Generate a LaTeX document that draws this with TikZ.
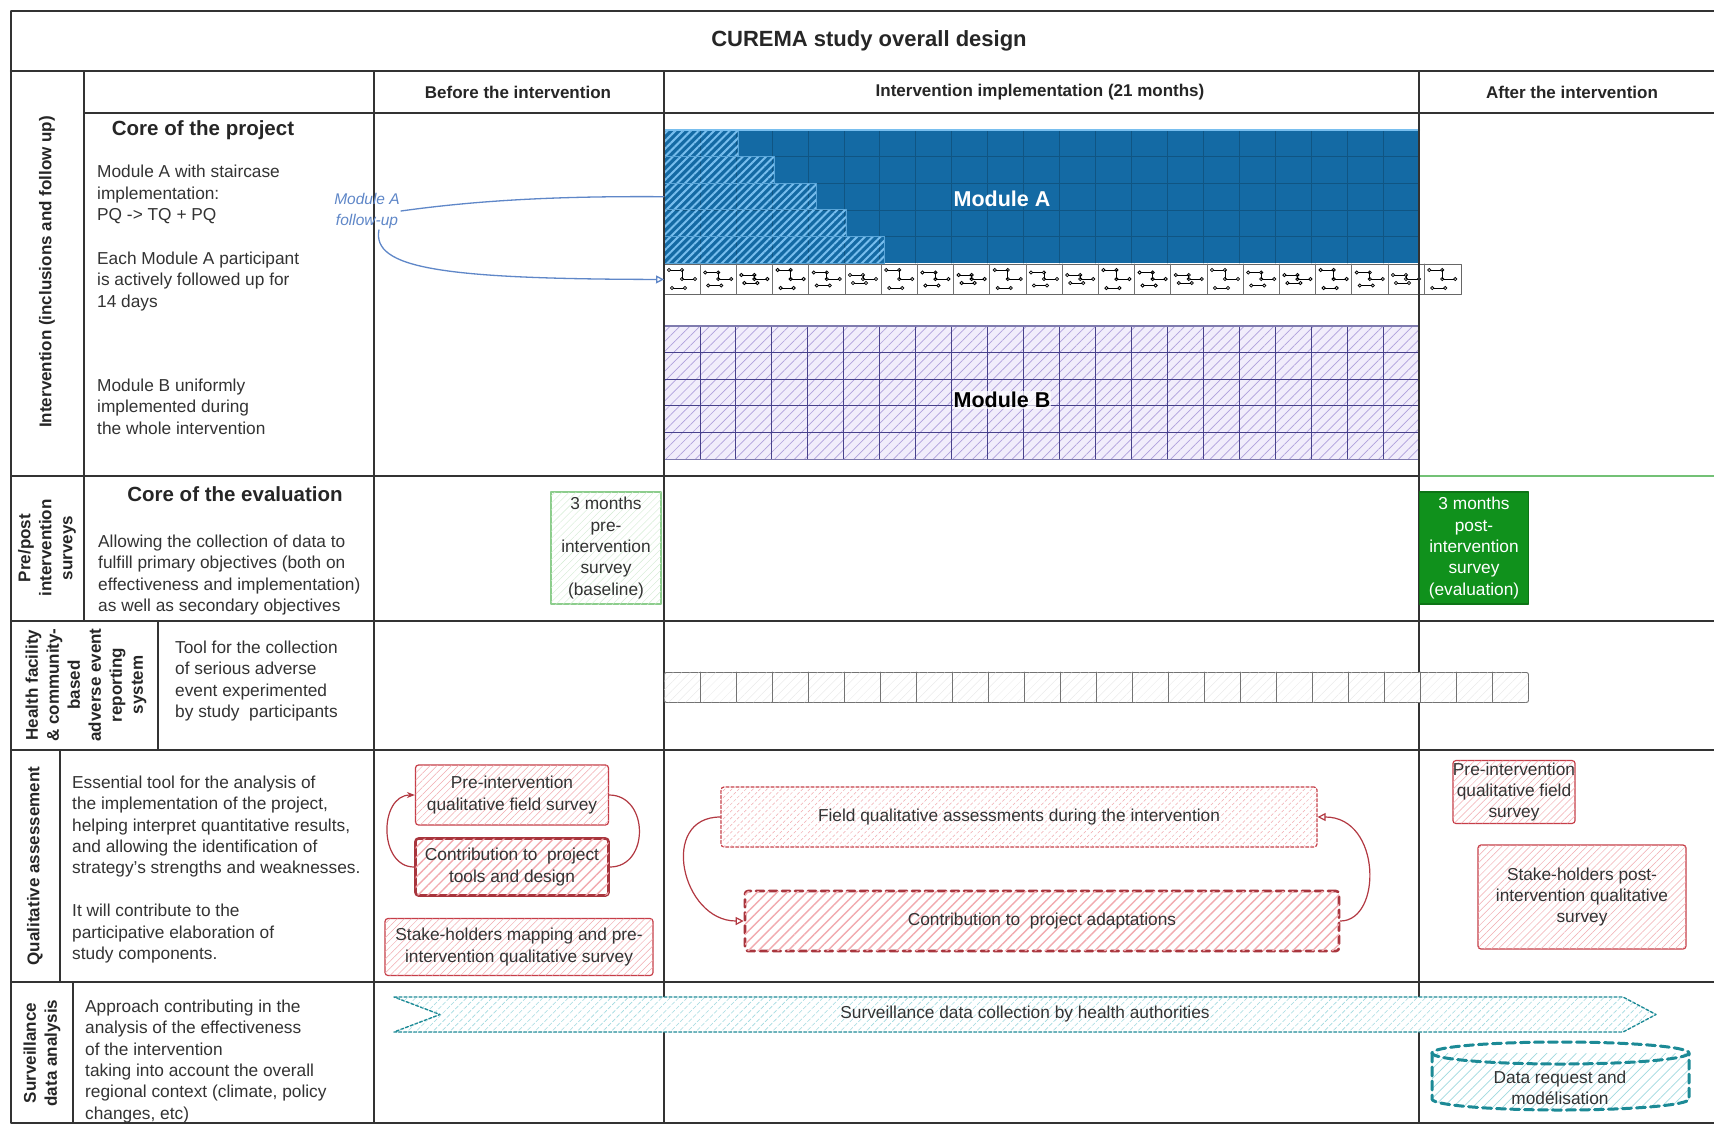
\documentclass[tikz,border=0pt]{standalone}
\usepackage{fontspec}
\setmainfont{Liberation Sans}
\usetikzlibrary{arrows.meta,patterns.meta,positioning}

\definecolor{modAblue}{RGB}{20,106,164}
\definecolor{modAhatch}{RGB}{120,190,238}
\definecolor{modBfill}{RGB}{241,237,251}
\definecolor{modBhatch}{RGB}{175,160,220}
\definecolor{modBgrid}{RGB}{72,66,140}
\definecolor{qred}{RGB}{198,62,72}
\definecolor{qpink}{RGB}{242,170,175}
\definecolor{evalgreen}{RGB}{16,145,28}
\definecolor{palegreen}{RGB}{140,205,140}
\definecolor{survteal}{RGB}{28,138,150}
\definecolor{tealhatch}{RGB}{160,218,224}
\definecolor{fublue}{RGB}{95,135,200}

\newcommand{\bodysize}{\fontsize{17.3}{21.4}\selectfont}
\newcommand{\labsize}{\bfseries\fontsize{17}{21}\selectfont}

\tikzstyle{tbl} = [line width=1.3pt, draw=black!80]
\tikzstyle{bodytxt} = [font=\bodysize, text=black!80, align=left, anchor=north west, inner sep=0pt]
\tikzstyle{headtxt} = [font=\labsize, text=black!85]
\tikzstyle{sidetxt} = [font=\labsize, text=black!85, rotate=90, align=center, inner sep=0pt]
\tikzstyle{cell} = [line width=0.9pt, draw=black!55]
\tikzstyle{fusym} = [line width=0.8pt, arrows={Circle[open,length=4pt]-Circle[open,length=4pt]}]
\tikzstyle{qbox} = [rounded corners=3pt, fill=white, align=center, font=\bodysize, text=black!80, inner sep=2pt]
\tikzstyle{qthin} = [qbox, draw=qred, line width=1.2pt, postaction={pattern={Lines[angle=45,distance=5pt,line width=0.5pt]}, pattern color=qpink}]
\tikzstyle{qbold} = [qbox, draw=qred!85!black, line width=2.6pt, postaction={pattern={Lines[angle=45,distance=7pt,line width=1.4pt]}, pattern color=qpink}]
\tikzstyle{qdash} = [qthin, dash pattern=on 3pt off 2pt]
\tikzstyle{qdashbold} = [qbold, dash pattern=on 8pt off 5pt]
\tikzstyle{qloop} = [draw=qred!90!black, line width=1.2pt]
\tikzstyle{fuarrow} = [draw=fublue, line width=1.3pt]

\begin{document}
\begin{tikzpicture}[x=1pt, y=-1pt, line cap=round, line join=round, >=Triangle]
  \useasboundingbox (0,0) rectangle (1714,1125);
  \fill[white] (0,0) rectangle (1714,1125);

  % module A with staircase
  \node[fill=modAblue, minimum width=755, minimum height=133, anchor=north west, inner sep=0pt] (modAbox) at (664,130) {};
  \foreach \i in {1,...,20}
    \draw[modAblue!80!black, line width=0.5pt] (664+35.95*\i,130) -- ++(0,133);
  \foreach \j in {1,...,4}
    \draw[modAblue!80!black, line width=0.5pt] (664,130+26.6*\j) -- ++(755,0);
  \foreach \w [count=\r from 0] in {74,110,152,182,220}
    \filldraw[draw=modAhatch!70!modAblue, line width=0.8pt, pattern={Lines[angle=45,distance=5.5pt,line width=2pt]}, pattern color=modAhatch] (664,130+26.6*\r) rectangle ++(\w,26.6);
  \draw[modAhatch, line width=1.2pt] (modAbox.north west) -- (modAbox.north east);
  \node[text=white, font=\bfseries\fontsize{21.5}{24}\selectfont] (modAlbl) at (1002,199) {Module A};

  % follow-up strip
  \node[draw=black!60, line width=0.9pt, fill=white, minimum width=797, minimum height=30, anchor=north west, inner sep=0pt] (fuStrip) at (664,264) {};
  \foreach \i in {0,...,21}{
    \pgfmathsetmacro{\xa}{664+36.2*\i}
    \pgfmathsetmacro{\dy}{mod(\i,3)*2.5}
    \ifnum\i>0 \draw[cell] (\xa,264) -- (\xa,294); \fi
    \draw[fusym] (\xa+3,270+\dy) -- ++(17,0);
    \draw[fusym] (\xa+16,279) -- ++(17,0);
    \draw[fusym] (\xa+6,288-\dy) -- ++(17,0);
    \draw[line width=0.8pt] (\xa+18,270+\dy) -- (\xa+18,279);
  }

  % module B
  \node[fill=modBfill, minimum width=755, minimum height=133, anchor=north west, inner sep=0pt,
        postaction={pattern={Lines[angle=45,distance=7pt,line width=0.7pt]}, pattern color=modBhatch}] (modBbox) at (664,326) {};
  \foreach \i in {1,...,20}
    \draw[modBgrid, line width=0.9pt] (664+35.95*\i,326) -- ++(0,133);
  \foreach \j in {1,...,4}
    \draw[modBgrid, line width=0.9pt] (664,326+26.6*\j) -- ++(755,0);
  \draw[modBgrid!70, line width=1.1pt] (modBbox.north west) rectangle (modBbox.south east);
  \node[fill=white, fill opacity=0.7, text opacity=1, inner sep=1pt, font=\bfseries\fontsize{21.5}{24}\selectfont] (modBlbl) at (1002,400) {Module B};

  % table
  \draw[tbl] (11,11) -- (1714,11);
  \draw[tbl] (11,11) -- (11,1123) -- (1714,1123);
  \draw[tbl, line width=2.4pt] (11,71) -- (1714,71);
  \draw[tbl] (84,113) -- (1714,113);
  \foreach \y in {476,621,750,982}
    \draw[tbl] (11,\y) -- (1714,\y);
  \draw[line width=1.3pt, palegreen!80!evalgreen] (1419,476) -- (1714,476);
  \foreach \x in {374,664,1419}
    \draw[tbl] (\x,71) -- (\x,1123);
  \draw[tbl] (84,71) -- (84,621);
  \draw[tbl] (158,621) -- (158,750);
  \draw[tbl] (60,750) -- (60,982);
  \draw[tbl] (73,982) -- (73,1123);

  % titles
  \node[font=\bfseries\fontsize{22}{26}\selectfont, text=black!85] (title) at (869,41) {CUREMA study overall design};
  \node[headtxt] (hBefore) at (518,92) {Before the intervention};
  \node[headtxt] (hDuring) at (1040,92) {Intervention implementation (21 months)};
  \node[headtxt] (hAfter) at (1572,92) {After the intervention};

  \node[sidetxt] (lblInterv) at (47,272) {Intervention (inclusions and follow up)};
  \node[sidetxt] (lblSurveys) at (47,548) {Pre/post\\intervention\\surveys};
  \node[sidetxt] (lblSae) at (86,685) {Health facility\\\& community-\\based\\adverse event\\reporting\\system};
  \node[sidetxt] (lblQual) at (35,866) {Qualitative assessement};
  \node[sidetxt] (lblSurv) at (42,1053) {Surveillance\\data analysis};

  % left column texts
  \node[font=\bfseries\fontsize{20.5}{24}\selectfont, text=black!85] (coreProj) at (203,130) {Core of the project};
  \node[bodytxt] (txtModA) at (97,165) {Module A with staircase\\implementation:\\PQ -> TQ + PQ};
  \node[bodytxt] (txtFollow) at (97,251.5) {Each Module A participant\\is actively followed up for\\14 days};
  \node[bodytxt] (txtModB) at (97,378.5) {Module B uniformly\\implemented during\\the whole intervention};
  \node[font=\bfseries\fontsize{20.5}{24}\selectfont, text=black!85] (coreEval) at (235,494) {Core of the evaluation};
  \node[bodytxt] (txtEval) at (98,534.5) {Allowing the collection of data to\\fulfill primary objectives (both on\\effectiveness and implementation)\\as well as secondary objectives};
  \node[bodytxt] (txtSae) at (175,640.5) {Tool for the collection\\of serious adverse\\event experimented\\by study\ \ participants};
  \node[bodytxt] (txtQual) at (72,775.5) {Essential tool for the analysis of\\the implementation of the project,\\helping interpret quantitative results,\\and allowing the identification of\\strategy's strengths and weaknesses.\\[21.4pt]It will contribute to the\\participative elaboration of\\study components.};
  \node[bodytxt] (txtSurv) at (85,999.5) {Approach contributing in the\\analysis of the effectiveness\\of the intervention\\taking into account the overall\\regional context (climate, policy\\changes, etc)};

  % follow-up link
  \node[text=fublue, font=\itshape\fontsize{15.5}{21}\selectfont, align=center, inner sep=1pt] (fuLabel) at (367,211) {Module A\\follow-up};
  \draw[fuarrow] (fuLabel.east) .. controls (480,200) and (560,196) .. (modAbox.west);
  \draw[fuarrow, -{Triangle[open,length=8pt,width=8pt]}] ([xshift=-22pt]fuLabel.south east) .. controls (372,268) and (440,279) .. (fuStrip.west);

  % pre/post surveys
  \node[draw=palegreen, line width=1.2pt, fill=white, minimum width=110, minimum height=112, align=center, inner sep=1pt,
        font=\bodysize, text=black!80, postaction={pattern={Lines[angle=45,distance=5pt,line width=0.4pt]}, pattern color=palegreen!40}] (preSurv) at (606,548) {3 months\\pre-\\intervention\\survey\\(baseline)};
  \node[draw=evalgreen!80!black, line width=1.2pt, fill=evalgreen, minimum width=109, minimum height=112, align=center, inner sep=1pt,
        font=\bodysize, text=white] (postSurv) at (1474,548) {3 months\\post-\\intervention\\survey\\(evaluation)};

  % adverse event strip
  \node[draw=black!55, line width=0.9pt, fill=white, rounded corners=2pt, minimum width=864, minimum height=30, anchor=north west, inner sep=0pt,
        postaction={pattern={Lines[angle=45,distance=6pt,line width=0.3pt]}, pattern color=black!10}] (saeStrip) at (664,672) {};
  \foreach \i in {1,...,23}
    \draw[cell] (664+36*\i,672) -- ++(0,30);

  % qualitative assessment
  \node[qthin, minimum width=193, minimum height=60] (preQual) at (512,795) {Pre-intervention\\qualitative field survey};
  \node[qbold, minimum width=193, minimum height=57] (contribTools) at (512,867) {Contribution to\ \ project\\tools and design};
  \node[qthin, minimum width=268, minimum height=57] (stakeMap) at (519,947) {Stake-holders mapping and pre-\\intervention qualitative survey};
  \draw[qloop, -{Stealth[length=8pt,width=6pt]}] (contribTools.west) .. controls +(-36,0) and +(-36,0) .. (preQual.west);
  \draw[qloop] (preQual.east) .. controls +(40,0) and +(40,0) .. (contribTools.east);

  \node[qdash, minimum width=596, minimum height=60] (fieldQual) at (1019,817) {Field qualitative assessments during the intervention};
  \node[qdashbold, minimum width=594, minimum height=60] (contribAdapt) at (1042,921) {Contribution to\ \ project adaptations};
  \draw[qloop, -{Triangle[open,length=8pt,width=8pt]}] (fieldQual.west) .. controls +(-62,0) and +(-62,0) .. (contribAdapt.west);
  \draw[qloop, -{Triangle[open,length=8pt,width=8pt]}] (contribAdapt.east) .. controls +(42,0) and +(64,0) .. (fieldQual.east);

  \node[qthin, inner xsep=0pt, minimum width=120, minimum height=59] (preQualPost) at (1514,792) {Pre-intervention\\qualitative field\\survey};
  \node[qthin, minimum width=208, minimum height=104] (stakePost) at (1582,897) {Stake-holders post-\\intervention qualitative\\survey};

  % surveillance
  \draw[survteal, line width=1.4pt, dash pattern=on 3pt off 2pt, fill=white,
        postaction={pattern={Lines[angle=45,distance=6pt,line width=0.6pt]}, pattern color=tealhatch}]
    (394,997) -- (1623,997) -- (1656,1014.5) -- (1623,1032) -- (394,1032) -- (440,1014.5) -- cycle;
  \node[font=\bodysize, text=black!80] (survBand) at (1025,1014.5) {Surveillance data collection by health authorities};

  \fill[white, postaction={pattern={Lines[angle=45,distance=7pt,line width=0.7pt]}, pattern color=tealhatch}]
    (1432,1053) -- (1432,1099) arc[start angle=180, end angle=0, x radius=128.5, y radius=11] -- (1689,1053) -- cycle;
  \draw[survteal, line width=3pt, dash pattern=on 9pt off 5pt]
    (1432,1053) -- (1432,1099) arc[start angle=180, end angle=0, x radius=128.5, y radius=11] -- (1689,1053);
  \draw[survteal, line width=3pt, dash pattern=on 9pt off 5pt] (1560.5,1053) ellipse[x radius=128.5, y radius=11];
  \node[font=\bodysize, text=black!80, align=center] (dataReq) at (1560,1088) {Data request and\\modélisation};
\end{tikzpicture}
\end{document}
